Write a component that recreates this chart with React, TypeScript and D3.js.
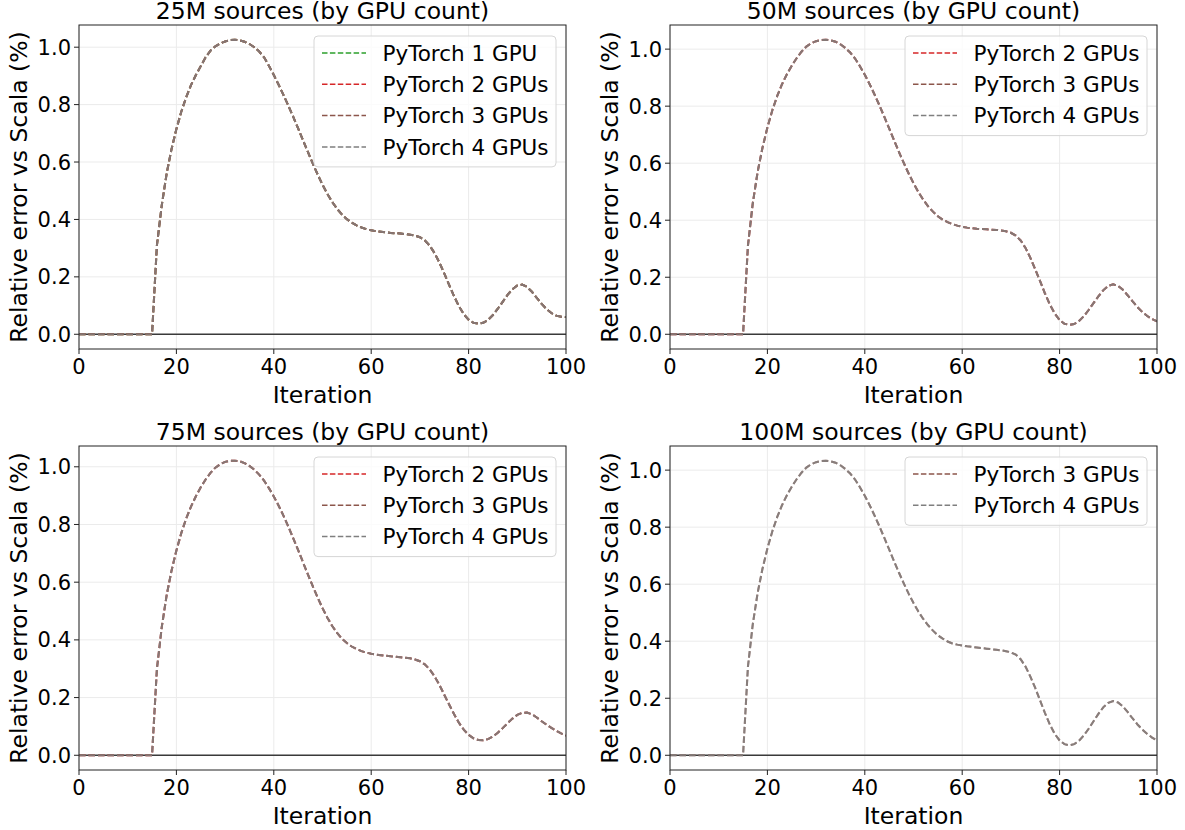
import React from "react";
import * as d3 from "d3";

// ---------- data ----------
const iterations: number[] = d3.range(0, 101);

const xTicks = [0, 20, 40, 60, 80, 100];
const yTicks = [0, 0.2, 0.4, 0.6, 0.8, 1.0];

const titles = [
  "25M sources (by GPU count)",
  "50M sources (by GPU count)",
  "75M sources (by GPU count)",
  "100M sources (by GPU count)",
];

const gpus25M = [1, 2, 3, 4];
const gpus50M = [2, 3, 4];
const gpus75M = [2, 3, 4];
const gpus100M = [3, 4];

const err25M = [
  0, 0, 0, 0, 0, 0, 0, 0, 0, 0, 0, 0, 0, 0, 0, 0,
  0.31, 0.45, 0.56, 0.645, 0.715, 0.775, 0.825, 0.868, 0.903, 0.934,
  0.965, 0.988, 1.003, 1.013, 1.02, 1.025, 1.026, 1.024, 1.019, 1.011,
  1.0, 0.985, 0.965, 0.935, 0.903, 0.869, 0.833, 0.796, 0.757, 0.717,
  0.676, 0.635, 0.595, 0.557, 0.521, 0.489, 0.461, 0.437, 0.417, 0.401,
  0.389, 0.379, 0.372, 0.366, 0.362, 0.359, 0.357, 0.355, 0.353, 0.352,
  0.351, 0.349, 0.347, 0.344, 0.338, 0.327, 0.309, 0.283, 0.25, 0.212,
  0.172, 0.133, 0.098, 0.07, 0.051, 0.04, 0.037, 0.04, 0.05, 0.067,
  0.089, 0.113, 0.137, 0.157, 0.17, 0.173, 0.165, 0.148, 0.127, 0.106,
  0.088, 0.074, 0.065, 0.061, 0.06,
];

const err50M = [
  0, 0, 0, 0, 0, 0, 0, 0, 0, 0, 0, 0, 0, 0, 0, 0,
  0.31, 0.46, 0.57, 0.655, 0.725, 0.785, 0.835, 0.877, 0.912, 0.942,
  0.968, 0.991, 1.009, 1.021, 1.028, 1.032, 1.033, 1.031, 1.026, 1.017,
  1.004, 0.988, 0.967, 0.94, 0.91, 0.877, 0.841, 0.803, 0.763, 0.722,
  0.681, 0.64, 0.601, 0.564, 0.53, 0.499, 0.472, 0.449, 0.43, 0.414,
  0.402, 0.393, 0.386, 0.381, 0.377, 0.374, 0.372, 0.37, 0.369, 0.368,
  0.367, 0.366, 0.364, 0.361, 0.356, 0.346, 0.329, 0.303, 0.268, 0.228,
  0.186, 0.143, 0.104, 0.073, 0.05, 0.037, 0.033, 0.036, 0.047, 0.064,
  0.086, 0.11, 0.134, 0.155, 0.17, 0.175, 0.17, 0.156, 0.136, 0.115,
  0.095, 0.078, 0.064, 0.053, 0.045,
];

const err75M = [
  0, 0, 0, 0, 0, 0, 0, 0, 0, 0, 0, 0, 0, 0, 0, 0,
  0.3, 0.445, 0.555, 0.64, 0.71, 0.77, 0.82, 0.862, 0.898, 0.929,
  0.956, 0.979, 0.997, 1.009, 1.017, 1.021, 1.021, 1.019, 1.013, 1.003,
  0.99, 0.973, 0.952, 0.926, 0.897, 0.865, 0.83, 0.792, 0.752, 0.711,
  0.669, 0.627, 0.586, 0.547, 0.51, 0.477, 0.448, 0.424, 0.404, 0.389,
  0.377, 0.368, 0.361, 0.356, 0.352, 0.349, 0.347, 0.345, 0.343, 0.342,
  0.34, 0.338, 0.336, 0.332, 0.326, 0.315, 0.298, 0.274, 0.244, 0.21,
  0.176, 0.143, 0.113, 0.089, 0.071, 0.059, 0.053, 0.052, 0.056, 0.065,
  0.078, 0.094, 0.111, 0.127, 0.14, 0.147, 0.148, 0.142, 0.131, 0.118,
  0.106, 0.095, 0.085, 0.076, 0.068,
];

const err100M = [
  0, 0, 0, 0, 0, 0, 0, 0, 0, 0, 0, 0, 0, 0, 0, 0,
  0.31, 0.46, 0.57, 0.655, 0.725, 0.785, 0.835, 0.877, 0.912, 0.942,
  0.968, 0.991, 1.009, 1.021, 1.028, 1.032, 1.033, 1.031, 1.026, 1.017,
  1.004, 0.988, 0.967, 0.94, 0.91, 0.877, 0.841, 0.803, 0.763, 0.722,
  0.681, 0.641, 0.603, 0.567, 0.534, 0.504, 0.478, 0.456, 0.437, 0.421,
  0.409, 0.399, 0.392, 0.388, 0.385, 0.382, 0.38, 0.378, 0.376, 0.374,
  0.372, 0.37, 0.368, 0.365, 0.361, 0.353, 0.337, 0.311, 0.276, 0.236,
  0.192, 0.148, 0.108, 0.075, 0.052, 0.039, 0.035, 0.039, 0.051, 0.07,
  0.094, 0.12, 0.146, 0.169, 0.184, 0.19, 0.185, 0.171, 0.151, 0.129,
  0.108, 0.09, 0.075, 0.062, 0.052,
];

const panelValues = [err25M, err50M, err75M, err100M];
const panelGpus = [gpus25M, gpus50M, gpus75M, gpus100M];

const gpuColors: Record<number, string> = {
  1: "#2ca02c",
  2: "#d62728",
  3: "#8c564b",
  4: "#7f7f7f",
};

const gpuLabel = (g: number) => (g === 1 ? "PyTorch 1 GPU" : `PyTorch ${g} GPUs`);

// ---------- layout ----------
const W = 1185;
const H = 830;
const colX: [number, number][] = [
  [79, 566],
  [670, 1157],
];
const rowY: [number, number][] = [
  [25, 349],
  [446, 770],
];
const FONT = "DejaVu Sans, sans-serif";

function Panel({ idx }: { idx: number }) {
  const [x0, x1] = colX[idx % 2];
  const [y0, y1] = rowY[Math.floor(idx / 2)];
  const values = panelValues[idx];
  const gpus = panelGpus[idx];
  const vmax = d3.max(values) as number;
  const vmin = d3.min(values) as number;
  const pad = (vmax - vmin) * 0.05;

  const x = d3.scaleLinear().domain([0, 100]).range([x0, x1]);
  const y = d3.scaleLinear().domain([vmin - pad, vmax + pad]).range([y1, y0]);

  const line = d3
    .line<number>()
    .x((_, i) => x(iterations[i]))
    .y((d) => y(d));
  const path = line(values) || "";

  const legW = 252;
  const legLeft = x1 - legW;
  const legTop = y0 + 11;
  const rowH = 31.3;
  const legH = 17 + (gpus.length - 1) * rowH + 20;

  return (
    <g>
      <defs>
        <clipPath id={`clip${idx}`}>
          <rect x={x0} y={y0} width={x1 - x0} height={y1 - y0} />
        </clipPath>
      </defs>
      {/* grid */}
      {xTicks.map((t) => (
        <line key={`gx${t}`} x1={x(t)} x2={x(t)} y1={y0} y2={y1} stroke="#ebebeb" strokeWidth={1} />
      ))}
      {yTicks.map((t) => (
        <line key={`gy${t}`} x1={x0} x2={x1} y1={y(t)} y2={y(t)} stroke="#ebebeb" strokeWidth={1} />
      ))}
      {/* zero line */}
      <line x1={x0} x2={x1} y1={y(0)} y2={y(0)} stroke="#3a3a3a" strokeWidth={1.3} />
      {/* series */}
      <g clipPath={`url(#clip${idx})`}>
        {gpus.map((g) => (
          <path
            key={g}
            d={path}
            fill="none"
            stroke={gpuColors[g]}
            strokeOpacity={0.8}
            strokeWidth={2}
            strokeDasharray="6.5,3"
          />
        ))}
      </g>
      {/* spines */}
      <rect x={x0} y={y0} width={x1 - x0} height={y1 - y0} fill="none" stroke="#222" strokeWidth={1} />
      {/* x ticks */}
      {xTicks.map((t) => (
        <g key={`xt${t}`}>
          <line x1={x(t)} x2={x(t)} y1={y1} y2={y1 + 5} stroke="#222" strokeWidth={1} />
          <text x={x(t)} y={y1 + 24.5} textAnchor="middle" fontFamily={FONT} fontSize={21} fill="#000">
            {t}
          </text>
        </g>
      ))}
      {/* y ticks */}
      {yTicks.map((t) => (
        <g key={`yt${t}`}>
          <line x1={x0 - 5} x2={x0} y1={y(t)} y2={y(t)} stroke="#222" strokeWidth={1} />
          <text
            x={x0 - 8}
            y={y(t) + 7.6}
            textAnchor="end"
            fontFamily={FONT}
            fontSize={21}
            fill="#000"
          >
            {t.toFixed(1)}
          </text>
        </g>
      ))}
      {/* title */}
      <text x={(x0 + x1) / 2} y={y0 - 6.5} textAnchor="middle" fontFamily={FONT} fontSize={23.5} fill="#000">
        {titles[idx]}
      </text>
      {/* x label */}
      <text x={(x0 + x1) / 2} y={y1 + 54} textAnchor="middle" fontFamily={FONT} fontSize={23.5} fill="#000">
        Iteration
      </text>
      {/* y label */}
      <text
        transform={`translate(${x0 - 52.5},${(y0 + y1) / 2}) rotate(-90)`}
        textAnchor="middle"
        fontFamily={FONT}
        fontSize={23.5}
        fill="#000"
      >
        Relative error vs Scala (%)
      </text>
      {/* legend */}
      <rect
        x={legLeft}
        y={legTop}
        width={legW - 10}
        height={legH}
        rx={4}
        fill="#fff"
        fillOpacity={0.8}
        stroke="#d6d6d6"
        strokeWidth={1}
      />
      {gpus.map((g, i) => {
        const cy = legTop + 17 + i * rowH;
        return (
          <g key={`lg${g}`}>
            <line
              x1={legLeft + 8}
              x2={legLeft + 52}
              y1={cy}
              y2={cy}
              stroke={gpuColors[g]}
              strokeWidth={1.5}
              strokeDasharray="5.5,2.4"
            />
            <text x={legLeft + 68.5} y={cy + 7.8} fontFamily={FONT} fontSize={21.5} fill="#000">
              {gpuLabel(g)}
            </text>
          </g>
        );
      })}
    </g>
  );
}

export default function App() {
  return (
    <div style={{ position: "absolute", left: 0, top: 0, width: W, height: H, background: "#fff" }}>
      <svg width={W} height={H} viewBox={`0 0 ${W} ${H}`} style={{ display: "block" }}>
        <rect x={0} y={0} width={W} height={H} fill="#fff" />
        {[0, 1, 2, 3].map((i) => (
          <Panel key={i} idx={i} />
        ))}
      </svg>
    </div>
  );
}
